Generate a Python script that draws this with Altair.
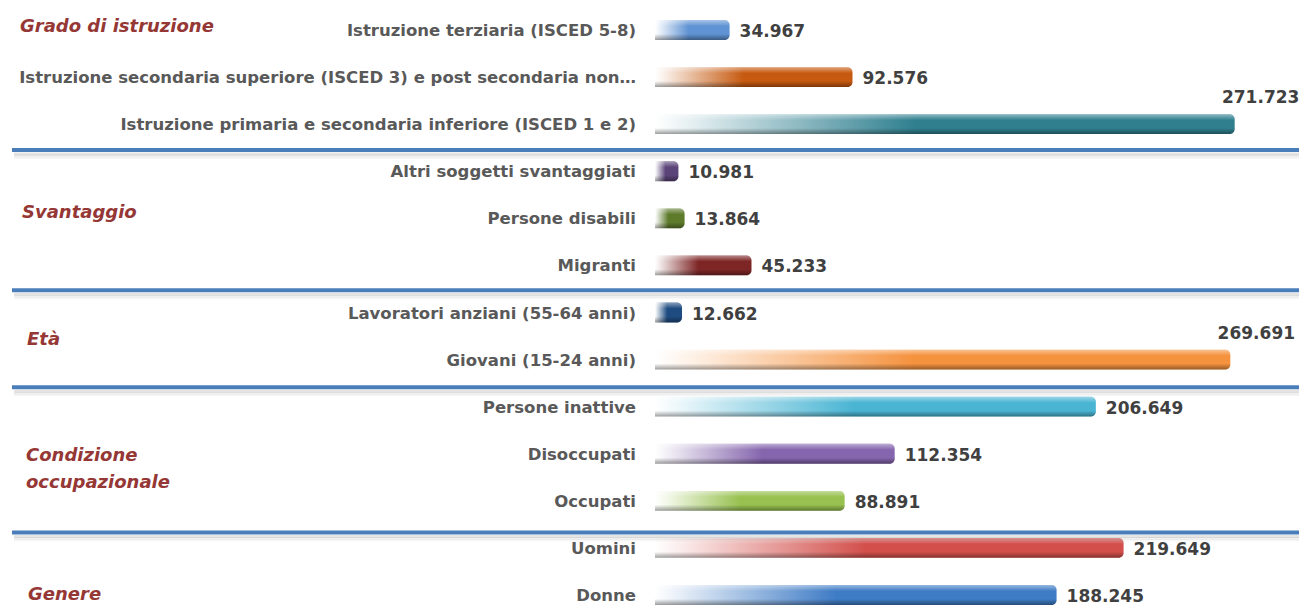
import altair as alt
import pandas as pd

groups = ["Grado di istruzione"] * 3 + ["Svantaggio"] * 3 + ["Età"] * 2 + \
         ["Condizione occupazionale"] * 3 + ["Genere"] * 2
categories = [
    "Istruzione terziaria (ISCED 5-8)",
    "Istruzione secondaria superiore (ISCED 3) e post secondaria non…",
    "Istruzione primaria e secondaria inferiore (ISCED 1 e 2)",
    "Altri soggetti svantaggiati",
    "Persone disabili",
    "Migranti",
    "Lavoratori anziani (55-64 anni)",
    "Giovani (15-24 anni)",
    "Persone inattive",
    "Disoccupati ",
    "Occupati ",
    "Uomini",
    "Donne",
]
values = [34967, 92576, 271723, 10981, 13864, 45233, 12662, 269691,
          206649, 112354, 88891, 219649, 188245]
bar_colors = ["#5f93d3", "#c65a10", "#2f7f8f", "#5a4478", "#5e7b2c", "#7e2626",
              "#1f4c80", "#f5923e", "#4ab5d3", "#8565ad", "#98c150", "#d24f4b", "#3f7cc6"]
group_titles = ["Grado di istruzione", "Svantaggio", "Età",
                "Condizione\noccupazionale", "Genere"]
# layout: anchor of each group title (row units, pixel x)
group_title_rows = [-0.06, 3.89, 6.58, 9.05, 12.0]
group_title_x = [12, 14, 19, 18, 20]
# layout: small nudges of the separator lines (row units)
sep_nudge = [0.05, 0.03, 0.09, 0.17]

W, H = 1291, 597
BAR_HALF = 0.21
FONT = "DejaVu Sans"

df = pd.DataFrame({"group": groups, "cat": categories, "value": values})
df["row"] = range(len(df))
df["zero"] = 0
df["y0"] = df["row"] - BAR_HALF
df["y1"] = df["row"] + BAR_HALF
df["label"] = [f"{v:,}".replace(",", ".") for v in values]

gdf = pd.DataFrame({"title": group_titles, "row": group_title_rows, "gx": group_title_x})

last_rows = df.groupby("group", sort=False)["row"].max().tolist()[:-1]
sdf = pd.DataFrame({"pos": [r + 0.5 + n for r, n in zip(last_rows, sep_nudge)]})

xs = alt.Scale(domain=[0, 300000], range=[647, 1287], zero=False, nice=False)
ys = alt.Scale(domain=[0, 12], range=[22, 587], zero=False, nice=False)


def tint(hexc, f):
    h = hexc.lstrip("#")
    r, g, b = (int(h[i:i + 2], 16) for i in (0, 2, 4))
    r = round(r + (255 - r) * f)
    g = round(g + (255 - g) * f)
    b = round(b + (255 - b) * f)
    return f"#{r:02x}{g:02x}{b:02x}"


base = alt.Chart(df)
layers = []
for i, c in enumerate(bar_colors):
    grad = {
        "gradient": "linear", "x1": 0, "y1": 0, "x2": 1, "y2": 0,
        "stops": [
            {"offset": 0, "color": "#ffffff"},
            {"offset": 0.06, "color": tint(c, 0.88)},
            {"offset": 0.45, "color": c},
            {"offset": 1, "color": c},
        ],
    }
    layers.append(
        base.transform_filter(alt.datum.row == i)
        .mark_rect(fill=grad, cornerRadiusTopRight=5, cornerRadiusBottomRight=5)
        .encode(
            x=alt.X("zero:Q", scale=xs, axis=None),
            x2="value:Q",
            y=alt.Y("y0:Q", scale=ys, axis=None),
            y2="y1:Q",
        )
    )

shade = {
    "gradient": "linear", "x1": 0, "y1": 0, "x2": 0, "y2": 1,
    "stops": [
        {"offset": 0, "color": "rgba(255,255,255,0.45)"},
        {"offset": 0.3, "color": "rgba(255,255,255,0)"},
        {"offset": 0.7, "color": "rgba(0,0,0,0)"},
        {"offset": 1, "color": "rgba(0,0,0,0.38)"},
    ],
}
layers.append(
    base.mark_rect(fill=shade, cornerRadiusTopRight=5, cornerRadiusBottomRight=5)
    .encode(
        x=alt.X("zero:Q", scale=xs, axis=None),
        x2="value:Q",
        y=alt.Y("y0:Q", scale=ys, axis=None),
        y2="y1:Q",
    )
)

# category labels
layers.append(
    base.mark_text(align="right", baseline="middle", dx=-19, dy=1,
                   font=FONT, fontWeight="bold", fontSize=16.5,
                   color="#595959")
    .encode(x=alt.X("zero:Q", scale=xs, axis=None),
            y=alt.Y("row:Q", scale=ys, axis=None), text="cat:N")
)

# value labels beside bar end
layers.append(
    base.transform_filter(alt.datum.value < 250000)
    .mark_text(align="left", baseline="middle", dx=10, dy=2,
               font=FONT, fontWeight="bold", fontSize=17,
               color="#404040")
    .encode(x=alt.X("value:Q", scale=xs, axis=None),
            y=alt.Y("row:Q", scale=ys, axis=None), text="label:N")
)
# value labels above the longest bars
layers.append(
    base.transform_filter(alt.datum.value >= 250000)
    .mark_text(align="center", baseline="middle", dx=26, dy=-26,
               font=FONT, fontWeight="bold", fontSize=17,
               color="#404040")
    .encode(x=alt.X("value:Q", scale=xs, axis=None),
            y=alt.Y("row:Q", scale=ys, axis=None), text="label:N")
)

# separators with a soft shadow
sep = alt.Chart(sdf)
for off, sw, op in [(4, 3, 0.10), (6, 3, 0.06), (8, 2, 0.03)]:
    layers.append(
        sep.mark_rule(yOffset=off, strokeWidth=sw, color="#000000", opacity=op)
        .encode(y=alt.Y("pos:Q", scale=ys, axis=None), x=alt.value(6), x2=alt.value(W))
    )
layers.append(
    sep.mark_rule(strokeWidth=4, color="#4a7ebb")
    .encode(y=alt.Y("pos:Q", scale=ys, axis=None), x=alt.value(4), x2=alt.value(W))
)

# group titles
layers.append(
    alt.Chart(gdf).mark_text(align="left", baseline="middle", lineBreak="\n",
                             lineHeight=27, font=FONT,
                             fontWeight="bold", fontStyle="italic", fontSize=18,
                             color="#953735")
    .encode(x=alt.X("gx:Q", scale=None, axis=None),
            y=alt.Y("row:Q", scale=ys, axis=None), text="title:N")
)

chart = alt.layer(*layers).properties(
    width=W, height=H, padding=0, autosize=alt.AutoSizeParams(type="none"),
    background="#ffffff",
).configure_view(stroke=None)

chart.save("out.html", embed_options={"renderer": "svg", "actions": False})
